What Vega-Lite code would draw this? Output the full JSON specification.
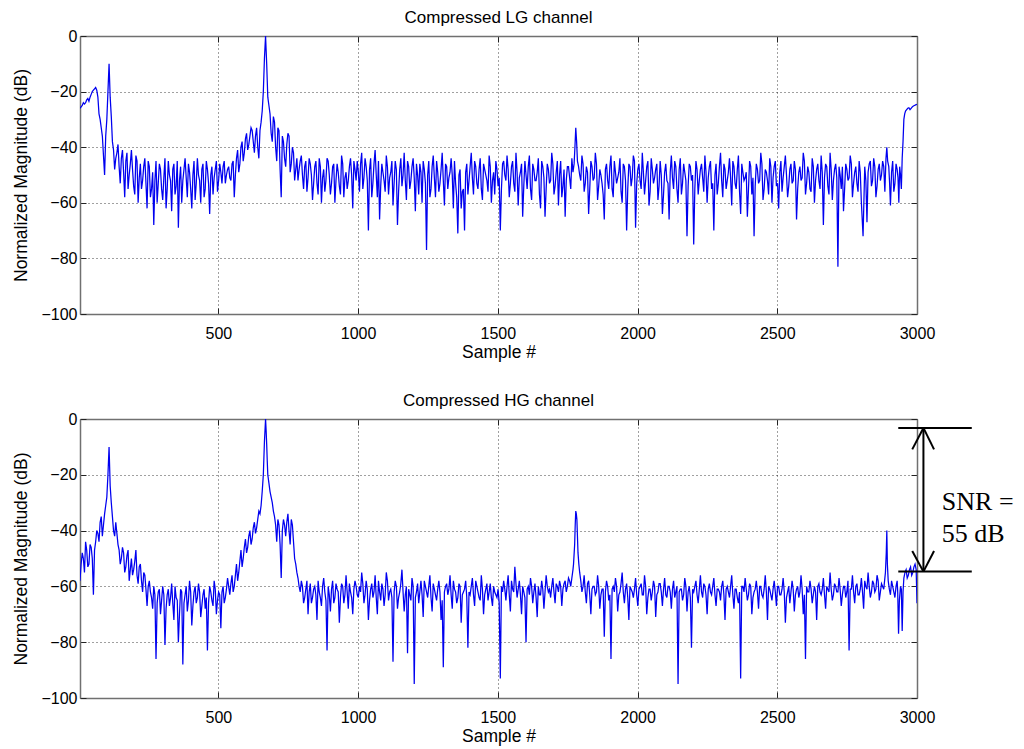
{
"$schema": "https://vega.github.io/schema/vega-lite/v6.json",
"padding": {"left": 12, "top": 9, "right": 2, "bottom": 2},
"background": "white",
"config": {
  "font": "Liberation Sans",
  "view": {"stroke": null},
  "axis": {"labelFont": "Liberation Sans", "labelFontSize": 16, "labelColor": "#000", "titleFont": "Liberation Sans", "titleFontSize": 17.5, "titleFontWeight": "normal", "titleColor": "#000", "domainColor": "#707070", "domainWidth": 1.5, "tickColor": "#222", "tickSize": -6, "gridColor": "#000", "gridDash": [1, 3], "gridOpacity": 0.75, "labelFlush": false},
  "axisX": {"labelPadding": 17},
  "axisY": {"labelPadding": 9},
  "title": {"font": "Liberation Sans", "fontSize": 17, "fontWeight": "normal", "color": "#000", "offset": 1, "anchor": "middle"}
},
"datasets": {
"lg": [
{"s":5,"m":-26},{"s":13,"m":-25},{"s":21,"m":-24.5},{"s":29,"m":-23},{"s":37,"m":-23.5},{"s":45,"m":-21},{"s":53,"m":-19.5},{"s":61,"m":-18.5},{"s":69,"m":-22},{"s":77,"m":-30},{"s":85,"m":-36},{"s":93,"m":-50},{"s":101,"m":-30},{"s":109,"m":-10},{"s":117,"m":-29},{"s":125,"m":-41},{"s":133,"m":-44},{"s":141,"m":-39},{"s":149,"m":-53},{"s":157,"m":-41},{"s":165,"m":-58},{"s":173,"m":-42},{"s":181,"m":-50},{"s":189,"m":-41},{"s":197,"m":-54},{"s":205,"m":-43},{"s":213,"m":-60},{"s":221,"m":-46},{"s":229,"m":-52},{"s":237,"m":-44},{"s":245,"m":-62},{"s":253,"m":-47},{"s":261,"m":-55},{"s":269,"m":-68},{"s":277,"m":-45},{"s":285,"m":-53},{"s":293,"m":-48},{"s":301,"m":-59},{"s":309,"m":-44},{"s":317,"m":-55},{"s":325,"m":-50},{"s":333,"m":-63},{"s":341,"m":-46},{"s":349,"m":-54},{"s":357,"m":-69},{"s":365,"m":-47},{"s":373,"m":-52},{"s":381,"m":-44},{"s":389,"m":-58},{"s":397,"m":-49},{"s":405,"m":-62},{"s":413,"m":-45},{"s":421,"m":-53},{"s":429,"m":-50},{"s":437,"m":-60},{"s":445,"m":-46},{"s":453,"m":-55},{"s":461,"m":-48},{"s":469,"m":-64},{"s":477,"m":-47},{"s":485,"m":-51},{"s":493,"m":-45},{"s":501,"m":-52},{"s":509,"m":-49},{"s":517,"m":-47},{"s":525,"m":-53},{"s":533,"m":-48},{"s":541,"m":-51},{"s":549,"m":-46},{"s":557,"m":-58},{"s":565,"m":-44},{"s":573,"m":-49},{"s":581,"m":-40},{"s":589,"m":-45},{"s":597,"m":-37},{"s":605,"m":-41},{"s":613,"m":-36},{"s":621,"m":-34},{"s":629,"m":-42},{"s":637,"m":-33},{"s":645,"m":-44},{"s":653,"m":-31},{"s":661,"m":-20},{"s":665,"m":-8},{"s":669,"m":0},{"s":673,"m":-10},{"s":677,"m":-22},{"s":685,"m":-28},{"s":693,"m":-38},{"s":701,"m":-31},{"s":709,"m":-45},{"s":717,"m":-34},{"s":725,"m":-58},{"s":733,"m":-38},{"s":741,"m":-47},{"s":749,"m":-35},{"s":757,"m":-49},{"s":765,"m":-40},{"s":773,"m":-52},{"s":781,"m":-44},{"s":789,"m":-48},{"s":797,"m":-43},{"s":805,"m":-55},{"s":813,"m":-45},{"s":821,"m":-51},{"s":829,"m":-46},{"s":837,"m":-59},{"s":845,"m":-47},{"s":853,"m":-53},{"s":861,"m":-44},{"s":869,"m":-60},{"s":877,"m":-48},{"s":885,"m":-52},{"s":893,"m":-45},{"s":901,"m":-57},{"s":909,"m":-47},{"s":917,"m":-60},{"s":925,"m":-46},{"s":933,"m":-54},{"s":941,"m":-43},{"s":949,"m":-58},{"s":957,"m":-49},{"s":965,"m":-52},{"s":973,"m":-44},{"s":981,"m":-62},{"s":989,"m":-48},
{"s":997,"m":-45},{"s":1005,"m":-56},{"s":1013,"m":-42},{"s":1021,"m":-51},{"s":1029,"m":-47},{"s":1037,"m":-70},{"s":1045,"m":-44},{"s":1053,"m":-53},{"s":1061,"m":-41},{"s":1069,"m":-58},{"s":1077,"m":-66},{"s":1085,"m":-46},{"s":1093,"m":-52},{"s":1101,"m":-43},{"s":1109,"m":-57},{"s":1117,"m":-49},{"s":1125,"m":-61},{"s":1133,"m":-45},{"s":1141,"m":-68},{"s":1149,"m":-48},{"s":1157,"m":-54},{"s":1165,"m":-42},{"s":1173,"m":-59},{"s":1181,"m":-47},{"s":1189,"m":-52},{"s":1197,"m":-44},{"s":1205,"m":-63},{"s":1213,"m":-50},{"s":1221,"m":-46},{"s":1229,"m":-60},{"s":1237,"m":-48},{"s":1245,"m":-77},{"s":1253,"m":-45},{"s":1261,"m":-55},{"s":1269,"m":-43},{"s":1277,"m":-58},{"s":1285,"m":-49},{"s":1293,"m":-53},{"s":1301,"m":-42},{"s":1309,"m":-61},{"s":1317,"m":-47},{"s":1325,"m":-51},{"s":1333,"m":-44},{"s":1341,"m":-62},{"s":1349,"m":-53},{"s":1357,"m":-71},{"s":1365,"m":-48},{"s":1373,"m":-56},{"s":1381,"m":-70},{"s":1389,"m":-46},{"s":1397,"m":-52},{"s":1405,"m":-42},{"s":1413,"m":-57},{"s":1421,"m":-47},{"s":1429,"m":-55},{"s":1437,"m":-44},{"s":1445,"m":-59},{"s":1453,"m":-48},{"s":1461,"m":-52},{"s":1469,"m":-43},{"s":1477,"m":-60},{"s":1485,"m":-49},{"s":1493,"m":-45},{"s":1501,"m":-54},{"s":1509,"m":-70},{"s":1517,"m":-46},{"s":1525,"m":-50},{"s":1533,"m":-43},{"s":1541,"m":-58},{"s":1549,"m":-47},{"s":1557,"m":-53},{"s":1565,"m":-42},{"s":1573,"m":-61},{"s":1581,"m":-49},{"s":1589,"m":-65},{"s":1597,"m":-45},{"s":1605,"m":-55},{"s":1613,"m":-43},{"s":1621,"m":-59},{"s":1629,"m":-48},{"s":1637,"m":-52},{"s":1645,"m":-44},{"s":1653,"m":-62},{"s":1661,"m":-47},{"s":1669,"m":-65},{"s":1677,"m":-46},{"s":1685,"m":-53},{"s":1693,"m":-42},{"s":1701,"m":-57},{"s":1709,"m":-49},{"s":1717,"m":-61},{"s":1725,"m":-45},{"s":1733,"m":-54},{"s":1741,"m":-65},{"s":1749,"m":-47},{"s":1757,"m":-51},{"s":1765,"m":-44},{"s":1773,"m":-46},{"s":1779,"m":-33},{"s":1785,"m":-45},{"s":1793,"m":-50},{"s":1801,"m":-43},{"s":1809,"m":-56},{"s":1817,"m":-47},{"s":1825,"m":-64},{"s":1833,"m":-45},{"s":1841,"m":-52},{"s":1849,"m":-42},{"s":1857,"m":-59},{"s":1865,"m":-48},{"s":1873,"m":-53},{"s":1881,"m":-66},{"s":1889,"m":-46},{"s":1897,"m":-55},{"s":1905,"m":-43},{"s":1913,"m":-58},{"s":1921,"m":-49},{"s":1929,"m":-51},{"s":1937,"m":-44},{"s":1945,"m":-60},{"s":1953,"m":-47},{"s":1961,"m":-70},{"s":1969,"m":-46},{"s":1977,"m":-54},{"s":1985,"m":-43},{"s":1993,"m":-69},
{"s":2001,"m":-48},{"s":2009,"m":-52},{"s":2017,"m":-42},{"s":2025,"m":-57},{"s":2033,"m":-47},{"s":2041,"m":-61},{"s":2049,"m":-44},{"s":2057,"m":-53},{"s":2065,"m":-48},{"s":2073,"m":-59},{"s":2081,"m":-45},{"s":2089,"m":-64},{"s":2097,"m":-49},{"s":2105,"m":-52},{"s":2113,"m":-66},{"s":2121,"m":-43},{"s":2129,"m":-55},{"s":2137,"m":-47},{"s":2145,"m":-60},{"s":2153,"m":-44},{"s":2161,"m":-53},{"s":2169,"m":-49},{"s":2177,"m":-72},{"s":2185,"m":-46},{"s":2193,"m":-52},{"s":2201,"m":-75},{"s":2209,"m":-45},{"s":2217,"m":-57},{"s":2225,"m":-48},{"s":2233,"m":-51},{"s":2241,"m":-43},{"s":2249,"m":-60},{"s":2257,"m":-47},{"s":2265,"m":-55},{"s":2273,"m":-70},{"s":2281,"m":-46},{"s":2289,"m":-53},{"s":2297,"m":-42},{"s":2305,"m":-58},{"s":2313,"m":-48},{"s":2321,"m":-52},{"s":2329,"m":-44},{"s":2337,"m":-61},{"s":2345,"m":-47},{"s":2353,"m":-55},{"s":2361,"m":-43},{"s":2369,"m":-64},{"s":2377,"m":-49},{"s":2385,"m":-51},{"s":2393,"m":-65},{"s":2401,"m":-45},{"s":2409,"m":-57},{"s":2417,"m":-72},{"s":2425,"m":-46},{"s":2433,"m":-53},{"s":2441,"m":-42},{"s":2449,"m":-59},{"s":2457,"m":-48},{"s":2465,"m":-52},{"s":2473,"m":-44},{"s":2481,"m":-60},{"s":2489,"m":-47},{"s":2497,"m":-54},{"s":2505,"m":-62},{"s":2513,"m":-45},{"s":2521,"m":-51},{"s":2529,"m":-43},{"s":2537,"m":-58},{"s":2545,"m":-48},{"s":2553,"m":-53},{"s":2561,"m":-45},{"s":2569,"m":-66},{"s":2577,"m":-49},{"s":2585,"m":-52},{"s":2593,"m":-42},{"s":2601,"m":-57},{"s":2609,"m":-47},{"s":2617,"m":-55},{"s":2625,"m":-44},{"s":2633,"m":-60},{"s":2641,"m":-48},{"s":2649,"m":-52},{"s":2657,"m":-43},{"s":2665,"m":-68},{"s":2673,"m":-46},{"s":2681,"m":-54},{"s":2689,"m":-42},{"s":2697,"m":-59},{"s":2705,"m":-48},{"s":2713,"m":-51},{"s":2717,"m":-83},{"s":2721,"m":-47},{"s":2729,"m":-55},{"s":2737,"m":-63},{"s":2745,"m":-46},{"s":2753,"m":-52},{"s":2761,"m":-43},{"s":2769,"m":-58},{"s":2777,"m":-49},{"s":2785,"m":-53},{"s":2793,"m":-45},{"s":2801,"m":-60},{"s":2807,"m":-72},{"s":2813,"m":-47},{"s":2821,"m":-67},{"s":2829,"m":-46},{"s":2837,"m":-54},{"s":2845,"m":-44},{"s":2853,"m":-58},{"s":2861,"m":-48},{"s":2869,"m":-52},{"s":2877,"m":-45},{"s":2885,"m":-56},{"s":2892,"m":-40},{"s":2899,"m":-47},{"s":2905,"m":-61},{"s":2913,"m":-45},{"s":2921,"m":-53},{"s":2929,"m":-48},{"s":2935,"m":-60},{"s":2941,"m":-50},{"s":2947,"m":-44},{"s":2953,"m":-30},{"s":2959,"m":-27},{"s":2967,"m":-26},{"s":2975,"m":-26.5},{"s":2983,"m":-25.5},{"s":2991,"m":-25},{"s":3000,"m":-24.6},
{"s":9,"m":-25.5},{"s":17,"m":-24},{"s":25,"m":-24},{"s":33,"m":-22.5},{"s":41,"m":-22},{"s":49,"m":-20},{"s":57,"m":-19},{"s":65,"m":-19.5},{"s":73,"m":-28},{"s":81,"m":-33},{"s":89,"m":-43},{"s":97,"m":-36},{"s":105,"m":-20},{"s":113,"m":-22},{"s":121,"m":-38},{"s":129,"m":-48},{"s":137,"m":-42},{"s":145,"m":-47},{"s":153,"m":-44},{"s":161,"m":-49},{"s":169,"m":-45},{"s":177,"m":-55},{"s":185,"m":-46},{"s":193,"m":-48},{"s":201,"m":-57},{"s":209,"m":-45},{"s":217,"m":-51},{"s":225,"m":-55},{"s":233,"m":-47},{"s":241,"m":-53},{"s":249,"m":-45},{"s":257,"m":-58},{"s":265,"m":-49},{"s":273,"m":-52},{"s":281,"m":-60},{"s":289,"m":-46},{"s":297,"m":-55},{"s":305,"m":-51},{"s":313,"m":-62},{"s":321,"m":-45},{"s":329,"m":-52},{"s":337,"m":-48},{"s":345,"m":-57},{"s":353,"m":-45},{"s":361,"m":-52},{"s":369,"m":-60},{"s":377,"m":-48},{"s":385,"m":-51},{"s":393,"m":-46},{"s":401,"m":-55},{"s":409,"m":-50},{"s":417,"m":-59},{"s":425,"m":-44},{"s":433,"m":-52},{"s":441,"m":-48},{"s":449,"m":-58},{"s":457,"m":-45},{"s":465,"m":-53},{"s":473,"m":-50},{"s":481,"m":-57},{"s":489,"m":-48},{"s":497,"m":-56},{"s":505,"m":-46},{"s":513,"m":-53},{"s":521,"m":-45},{"s":529,"m":-50},{"s":537,"m":-47},{"s":545,"m":-52},{"s":553,"m":-45},{"s":561,"m":-50},{"s":569,"m":-41},{"s":577,"m":-46},{"s":585,"m":-38},{"s":593,"m":-42},{"s":601,"m":-35},{"s":609,"m":-39},{"s":617,"m":-33},{"s":625,"m":-38},{"s":633,"m":-36},{"s":641,"m":-40},{"s":649,"m":-34},{"s":657,"m":-27},{"s":663,"m":-14},{"s":667,"m":-4},{"s":671,"m":-5},{"s":675,"m":-16},{"s":681,"m":-25},{"s":689,"m":-35},{"s":697,"m":-29},{"s":705,"m":-40},{"s":713,"m":-33},{"s":721,"m":-48},{"s":729,"m":-36},{"s":737,"m":-44},{"s":745,"m":-39},{"s":753,"m":-36},{"s":761,"m":-46},{"s":769,"m":-42},{"s":777,"m":-48},{"s":785,"m":-52},{"s":793,"m":-45},{"s":801,"m":-50},{"s":809,"m":-47},{"s":817,"m":-56},{"s":825,"m":-44},{"s":833,"m":-50},{"s":841,"m":-53},{"s":849,"m":-45},{"s":857,"m":-57},{"s":865,"m":-47},{"s":873,"m":-51},{"s":881,"m":-56},{"s":889,"m":-44},{"s":897,"m":-50},{"s":905,"m":-53},{"s":913,"m":-46},{"s":921,"m":-52},{"s":929,"m":-49},{"s":937,"m":-57},{"s":945,"m":-46},{"s":953,"m":-51},{"s":961,"m":-55},{"s":969,"m":-47},{"s":977,"m":-50},{"s":985,"m":-45},{"s":993,"m":-52},
{"s":1001,"m":-49},{"s":1009,"m":-46},{"s":1017,"m":-55},{"s":1025,"m":-44},{"s":1033,"m":-52},{"s":1041,"m":-48},{"s":1049,"m":-58},{"s":1057,"m":-46},{"s":1065,"m":-50},{"s":1073,"m":-45},{"s":1081,"m":-54},{"s":1089,"m":-49},{"s":1097,"m":-56},{"s":1105,"m":-47},{"s":1113,"m":-51},{"s":1121,"m":-45},{"s":1129,"m":-53},{"s":1137,"m":-48},{"s":1145,"m":-56},{"s":1153,"m":-44},{"s":1161,"m":-50},{"s":1169,"m":-52},{"s":1177,"m":-45},{"s":1185,"m":-55},{"s":1193,"m":-47},{"s":1201,"m":-51},{"s":1209,"m":-46},{"s":1217,"m":-57},{"s":1225,"m":-49},{"s":1233,"m":-45},{"s":1241,"m":-53},{"s":1249,"m":-50},{"s":1257,"m":-58},{"s":1265,"m":-47},{"s":1273,"m":-51},{"s":1281,"m":-45},{"s":1289,"m":-56},{"s":1297,"m":-48},{"s":1305,"m":-52},{"s":1313,"m":-46},{"s":1321,"m":-55},{"s":1329,"m":-49},{"s":1337,"m":-50},{"s":1345,"m":-45},{"s":1353,"m":-58},{"s":1361,"m":-50},{"s":1369,"m":-62},{"s":1377,"m":-55},{"s":1385,"m":-49},{"s":1393,"m":-57},{"s":1401,"m":-47},{"s":1409,"m":-51},{"s":1417,"m":-45},{"s":1425,"m":-53},{"s":1433,"m":-48},{"s":1441,"m":-55},{"s":1449,"m":-46},{"s":1457,"m":-50},{"s":1465,"m":-56},{"s":1473,"m":-47},{"s":1481,"m":-52},{"s":1489,"m":-57},{"s":1497,"m":-48},{"s":1505,"m":-51},{"s":1513,"m":-55},{"s":1521,"m":-45},{"s":1529,"m":-52},{"s":1537,"m":-48},{"s":1545,"m":-53},{"s":1553,"m":-45},{"s":1561,"m":-56},{"s":1569,"m":-49},{"s":1577,"m":-51},{"s":1585,"m":-46},{"s":1593,"m":-54},{"s":1601,"m":-50},{"s":1609,"m":-47},{"s":1617,"m":-55},{"s":1625,"m":-46},{"s":1633,"m":-52},{"s":1641,"m":-49},{"s":1649,"m":-57},{"s":1657,"m":-45},{"s":1665,"m":-51},{"s":1673,"m":-55},{"s":1681,"m":-48},{"s":1689,"m":-52},{"s":1697,"m":-46},{"s":1705,"m":-54},{"s":1713,"m":-45},{"s":1721,"m":-50},{"s":1729,"m":-58},{"s":1737,"m":-48},{"s":1745,"m":-52},{"s":1753,"m":-47},{"s":1761,"m":-55},{"s":1769,"m":-49},{"s":1776,"m":-40},{"s":1782,"m":-38},{"s":1789,"m":-47},{"s":1797,"m":-52},{"s":1805,"m":-46},{"s":1813,"m":-53},{"s":1821,"m":-49},{"s":1829,"m":-55},{"s":1837,"m":-47},{"s":1845,"m":-51},{"s":1853,"m":-46},{"s":1861,"m":-54},{"s":1869,"m":-50},{"s":1877,"m":-57},{"s":1885,"m":-48},{"s":1893,"m":-52},{"s":1901,"m":-47},{"s":1909,"m":-55},{"s":1917,"m":-45},{"s":1925,"m":-53},{"s":1933,"m":-49},{"s":1941,"m":-56},{"s":1949,"m":-46},{"s":1957,"m":-52},{"s":1965,"m":-55},{"s":1973,"m":-47},{"s":1981,"m":-51},{"s":1989,"m":-45},{"s":1997,"m":-53},
{"s":2005,"m":-46},{"s":2013,"m":-55},{"s":2021,"m":-49},{"s":2029,"m":-52},{"s":2037,"m":-45},{"s":2045,"m":-56},{"s":2053,"m":-48},{"s":2061,"m":-51},{"s":2069,"m":-46},{"s":2077,"m":-54},{"s":2085,"m":-50},{"s":2093,"m":-57},{"s":2101,"m":-46},{"s":2109,"m":-53},{"s":2117,"m":-49},{"s":2125,"m":-51},{"s":2133,"m":-45},{"s":2141,"m":-55},{"s":2149,"m":-48},{"s":2157,"m":-57},{"s":2165,"m":-46},{"s":2173,"m":-52},{"s":2181,"m":-54},{"s":2189,"m":-47},{"s":2197,"m":-50},{"s":2205,"m":-55},{"s":2213,"m":-48},{"s":2221,"m":-52},{"s":2229,"m":-46},{"s":2237,"m":-56},{"s":2245,"m":-49},{"s":2253,"m":-51},{"s":2261,"m":-45},{"s":2269,"m":-53},{"s":2277,"m":-50},{"s":2285,"m":-57},{"s":2293,"m":-47},{"s":2301,"m":-52},{"s":2309,"m":-46},{"s":2317,"m":-55},{"s":2325,"m":-49},{"s":2333,"m":-51},{"s":2341,"m":-45},{"s":2349,"m":-53},{"s":2357,"m":-48},{"s":2365,"m":-56},{"s":2373,"m":-46},{"s":2381,"m":-52},{"s":2389,"m":-49},{"s":2397,"m":-55},{"s":2405,"m":-47},{"s":2413,"m":-51},{"s":2421,"m":-54},{"s":2429,"m":-48},{"s":2437,"m":-52},{"s":2445,"m":-46},{"s":2453,"m":-55},{"s":2461,"m":-49},{"s":2469,"m":-57},{"s":2477,"m":-47},{"s":2485,"m":-51},{"s":2493,"m":-45},{"s":2501,"m":-53},{"s":2509,"m":-49},{"s":2517,"m":-56},{"s":2525,"m":-47},{"s":2533,"m":-50},{"s":2541,"m":-54},{"s":2549,"m":-46},{"s":2557,"m":-52},{"s":2565,"m":-48},{"s":2573,"m":-55},{"s":2581,"m":-47},{"s":2589,"m":-51},{"s":2597,"m":-45},{"s":2605,"m":-53},{"s":2613,"m":-49},{"s":2621,"m":-56},{"s":2629,"m":-47},{"s":2637,"m":-52},{"s":2645,"m":-46},{"s":2653,"m":-55},{"s":2661,"m":-49},{"s":2669,"m":-51},{"s":2677,"m":-47},{"s":2685,"m":-57},{"s":2693,"m":-48},{"s":2701,"m":-52},{"s":2709,"m":-46},{"s":2725,"m":-50},{"s":2733,"m":-47},{"s":2741,"m":-55},{"s":2749,"m":-48},{"s":2757,"m":-51},{"s":2765,"m":-46},{"s":2773,"m":-53},{"s":2781,"m":-47},{"s":2789,"m":-56},{"s":2797,"m":-49},{"s":2817,"m":-52},{"s":2825,"m":-49},{"s":2833,"m":-45},{"s":2841,"m":-52},{"s":2849,"m":-47},{"s":2857,"m":-54},{"s":2865,"m":-46},{"s":2873,"m":-50},{"s":2881,"m":-47},{"s":2889,"m":-44},{"s":2895,"m":-45},{"s":2902,"m":-53},{"s":2909,"m":-49},{"s":2917,"m":-56},{"s":2925,"m":-46},{"s":2932,"m":-51},{"s":2938,"m":-47},{"s":2944,"m":-55},{"s":2950,"m":-38},{"s":2956,"m":-28},{"s":2963,"m":-26.5},{"s":2971,"m":-25.8},{"s":2979,"m":-26},{"s":2987,"m":-25.2},{"s":2995,"m":-24.8}
],
"hg": [
{"s":5,"m":-58},{"s":13,"m":-48},{"s":21,"m":-55},{"s":29,"m":-47},{"s":37,"m":-52},{"s":45,"m":-46},{"s":53,"m":-63},{"s":61,"m":-44},{"s":69,"m":-41},{"s":77,"m":-37},{"s":85,"m":-42},{"s":93,"m":-34},{"s":101,"m":-28},{"s":109,"m":-10},{"s":117,"m":-30},{"s":125,"m":-40},{"s":133,"m":-37},{"s":141,"m":-45},{"s":149,"m":-52},{"s":157,"m":-46},{"s":165,"m":-55},{"s":173,"m":-49},{"s":181,"m":-58},{"s":189,"m":-50},{"s":197,"m":-54},{"s":205,"m":-47},{"s":213,"m":-59},{"s":221,"m":-52},{"s":229,"m":-62},{"s":237,"m":-56},{"s":245,"m":-67},{"s":253,"m":-58},{"s":261,"m":-64},{"s":269,"m":-60},{"s":277,"m":-86},{"s":285,"m":-62},{"s":293,"m":-70},{"s":301,"m":-60},{"s":309,"m":-81},{"s":317,"m":-63},{"s":325,"m":-67},{"s":333,"m":-59},{"s":341,"m":-72},{"s":349,"m":-64},{"s":357,"m":-80},{"s":365,"m":-61},{"s":373,"m":-88},{"s":381,"m":-63},{"s":389,"m":-69},{"s":397,"m":-58},{"s":405,"m":-74},{"s":413,"m":-62},{"s":421,"m":-66},{"s":429,"m":-59},{"s":437,"m":-71},{"s":445,"m":-63},{"s":453,"m":-68},{"s":461,"m":-83},{"s":469,"m":-60},{"s":477,"m":-65},{"s":485,"m":-58},{"s":493,"m":-70},{"s":501,"m":-62},{"s":509,"m":-75},{"s":517,"m":-60},{"s":525,"m":-64},{"s":533,"m":-57},{"s":541,"m":-63},{"s":549,"m":-56},{"s":557,"m":-60},{"s":565,"m":-52},{"s":573,"m":-55},{"s":581,"m":-47},{"s":589,"m":-50},{"s":597,"m":-43},{"s":605,"m":-46},{"s":613,"m":-40},{"s":621,"m":-43},{"s":629,"m":-37},{"s":637,"m":-39},{"s":645,"m":-33},{"s":653,"m":-31},{"s":661,"m":-20},{"s":665,"m":-8},{"s":669,"m":0},{"s":673,"m":-9},{"s":677,"m":-20},{"s":685,"m":-26},{"s":693,"m":-30},{"s":701,"m":-35},{"s":709,"m":-44},{"s":717,"m":-38},{"s":725,"m":-57},{"s":733,"m":-36},{"s":741,"m":-42},{"s":749,"m":-34},{"s":757,"m":-45},{"s":765,"m":-38},{"s":773,"m":-50},{"s":781,"m":-55},{"s":789,"m":-60},{"s":797,"m":-58},{"s":805,"m":-66},{"s":813,"m":-61},{"s":821,"m":-70},{"s":829,"m":-59},{"s":837,"m":-64},{"s":845,"m":-60},{"s":853,"m":-72},{"s":861,"m":-62},{"s":869,"m":-67},{"s":877,"m":-57},{"s":885,"m":-65},{"s":889,"m":-83},{"s":893,"m":-60},{"s":901,"m":-69},{"s":909,"m":-58},{"s":917,"m":-64},{"s":925,"m":-61},{"s":933,"m":-73},{"s":941,"m":-59},{"s":949,"m":-66},{"s":957,"m":-56},{"s":965,"m":-68},{"s":973,"m":-62},{"s":981,"m":-70},{"s":989,"m":-58},{"s":997,"m":-63},
{"s":1005,"m":-60},{"s":1013,"m":-55},{"s":1021,"m":-66},{"s":1029,"m":-58},{"s":1037,"m":-72},{"s":1045,"m":-61},{"s":1053,"m":-64},{"s":1061,"m":-56},{"s":1069,"m":-70},{"s":1077,"m":-62},{"s":1085,"m":-59},{"s":1093,"m":-67},{"s":1101,"m":-55},{"s":1109,"m":-65},{"s":1117,"m":-61},{"s":1125,"m":-87},{"s":1133,"m":-58},{"s":1141,"m":-68},{"s":1149,"m":-62},{"s":1157,"m":-54},{"s":1165,"m":-69},{"s":1173,"m":-60},{"s":1177,"m":-84},{"s":1185,"m":-63},{"s":1193,"m":-57},{"s":1201,"m":-95},{"s":1209,"m":-62},{"s":1217,"m":-66},{"s":1225,"m":-58},{"s":1233,"m":-71},{"s":1241,"m":-60},{"s":1249,"m":-64},{"s":1257,"m":-56},{"s":1265,"m":-69},{"s":1273,"m":-61},{"s":1281,"m":-65},{"s":1289,"m":-58},{"s":1297,"m":-72},{"s":1305,"m":-89},{"s":1313,"m":-60},{"s":1321,"m":-63},{"s":1329,"m":-56},{"s":1337,"m":-68},{"s":1345,"m":-61},{"s":1353,"m":-66},{"s":1361,"m":-59},{"s":1369,"m":-73},{"s":1377,"m":-62},{"s":1385,"m":-58},{"s":1393,"m":-82},{"s":1401,"m":-63},{"s":1409,"m":-57},{"s":1417,"m":-67},{"s":1425,"m":-60},{"s":1433,"m":-64},{"s":1441,"m":-56},{"s":1449,"m":-70},{"s":1457,"m":-61},{"s":1465,"m":-65},{"s":1473,"m":-59},{"s":1481,"m":-67},{"s":1489,"m":-62},{"s":1497,"m":-64},{"s":1505,"m":-66},{"s":1509,"m":-93},{"s":1513,"m":-60},{"s":1521,"m":-58},{"s":1529,"m":-65},{"s":1537,"m":-56},{"s":1545,"m":-69},{"s":1553,"m":-61},{"s":1561,"m":-53},{"s":1569,"m":-64},{"s":1577,"m":-58},{"s":1585,"m":-70},{"s":1593,"m":-62},{"s":1601,"m":-80},{"s":1609,"m":-60},{"s":1617,"m":-57},{"s":1625,"m":-66},{"s":1633,"m":-59},{"s":1641,"m":-71},{"s":1649,"m":-63},{"s":1657,"m":-58},{"s":1665,"m":-68},{"s":1673,"m":-56},{"s":1681,"m":-62},{"s":1689,"m":-64},{"s":1697,"m":-57},{"s":1705,"m":-66},{"s":1713,"m":-60},{"s":1721,"m":-58},{"s":1729,"m":-67},{"s":1737,"m":-59},{"s":1745,"m":-62},{"s":1753,"m":-57},{"s":1761,"m":-60},{"s":1769,"m":-54},{"s":1775,"m":-45},{"s":1779,"m":-33},{"s":1783,"m":-36},{"s":1787,"m":-48},{"s":1793,"m":-55},{"s":1801,"m":-62},{"s":1809,"m":-56},{"s":1817,"m":-66},{"s":1825,"m":-58},{"s":1833,"m":-70},{"s":1841,"m":-60},{"s":1849,"m":-63},{"s":1857,"m":-56},{"s":1865,"m":-68},{"s":1873,"m":-61},{"s":1881,"m":-78},{"s":1889,"m":-58},{"s":1897,"m":-65},{"s":1905,"m":-86},{"s":1913,"m":-60},{"s":1921,"m":-57},{"s":1929,"m":-69},{"s":1937,"m":-62},{"s":1945,"m":-55},{"s":1953,"m":-66},{"s":1961,"m":-59},{"s":1969,"m":-72},{"s":1977,"m":-61},{"s":1985,"m":-64},{"s":1993,"m":-57},
{"s":2001,"m":-67},{"s":2009,"m":-60},{"s":2017,"m":-63},{"s":2025,"m":-56},{"s":2033,"m":-70},{"s":2041,"m":-61},{"s":2049,"m":-65},{"s":2057,"m":-58},{"s":2065,"m":-71},{"s":2073,"m":-62},{"s":2081,"m":-59},{"s":2089,"m":-67},{"s":2097,"m":-57},{"s":2105,"m":-64},{"s":2113,"m":-60},{"s":2121,"m":-68},{"s":2129,"m":-58},{"s":2137,"m":-62},{"s":2145,"m":-95},{"s":2153,"m":-61},{"s":2161,"m":-65},{"s":2169,"m":-57},{"s":2177,"m":-69},{"s":2185,"m":-60},{"s":2193,"m":-82},{"s":2201,"m":-62},{"s":2209,"m":-58},{"s":2217,"m":-66},{"s":2225,"m":-56},{"s":2233,"m":-64},{"s":2241,"m":-60},{"s":2249,"m":-70},{"s":2257,"m":-59},{"s":2265,"m":-63},{"s":2273,"m":-57},{"s":2281,"m":-67},{"s":2289,"m":-61},{"s":2297,"m":-65},{"s":2305,"m":-58},{"s":2313,"m":-72},{"s":2321,"m":-60},{"s":2329,"m":-64},{"s":2337,"m":-56},{"s":2345,"m":-68},{"s":2353,"m":-61},{"s":2361,"m":-66},{"s":2369,"m":-93},{"s":2377,"m":-60},{"s":2385,"m":-57},{"s":2393,"m":-65},{"s":2401,"m":-59},{"s":2409,"m":-70},{"s":2417,"m":-62},{"s":2425,"m":-58},{"s":2433,"m":-68},{"s":2441,"m":-60},{"s":2449,"m":-64},{"s":2457,"m":-56},{"s":2465,"m":-72},{"s":2473,"m":-61},{"s":2481,"m":-65},{"s":2489,"m":-58},{"s":2497,"m":-67},{"s":2505,"m":-60},{"s":2513,"m":-63},{"s":2521,"m":-57},{"s":2529,"m":-73},{"s":2537,"m":-62},{"s":2545,"m":-66},{"s":2553,"m":-58},{"s":2561,"m":-69},{"s":2569,"m":-61},{"s":2577,"m":-64},{"s":2585,"m":-56},{"s":2593,"m":-70},{"s":2601,"m":-86},{"s":2609,"m":-62},{"s":2617,"m":-58},{"s":2625,"m":-66},{"s":2633,"m":-60},{"s":2641,"m":-72},{"s":2649,"m":-59},{"s":2657,"m":-63},{"s":2665,"m":-57},{"s":2673,"m":-68},{"s":2681,"m":-61},{"s":2689,"m":-55},{"s":2697,"m":-65},{"s":2705,"m":-59},{"s":2713,"m":-62},{"s":2721,"m":-57},{"s":2729,"m":-67},{"s":2737,"m":-60},{"s":2745,"m":-64},{"s":2753,"m":-58},{"s":2757,"m":-83},{"s":2761,"m":-61},{"s":2769,"m":-56},{"s":2777,"m":-66},{"s":2785,"m":-59},{"s":2793,"m":-63},{"s":2801,"m":-57},{"s":2809,"m":-68},{"s":2817,"m":-60},{"s":2825,"m":-55},{"s":2833,"m":-64},{"s":2841,"m":-58},{"s":2849,"m":-62},{"s":2857,"m":-56},{"s":2865,"m":-65},{"s":2873,"m":-59},{"s":2881,"m":-61},{"s":2887,"m":-55},{"s":2892,"m":-40},{"s":2897,"m":-58},{"s":2905,"m":-63},{"s":2913,"m":-60},{"s":2921,"m":-64},{"s":2929,"m":-58},{"s":2934,"m":-77},{"s":2941,"m":-60},{"s":2947,"m":-76},{"s":2953,"m":-57},{"s":2961,"m":-54},{"s":2969,"m":-56},{"s":2977,"m":-53},{"s":2985,"m":-55},{"s":2993,"m":-52},{"s":3000,"m":-66},
{"s":9,"m":-52},{"s":17,"m":-50},{"s":25,"m":-44},{"s":33,"m":-53},{"s":41,"m":-45},{"s":49,"m":-50},{"s":57,"m":-47},{"s":65,"m":-40},{"s":73,"m":-44},{"s":81,"m":-35},{"s":89,"m":-38},{"s":97,"m":-31},{"s":105,"m":-20},{"s":113,"m":-24},{"s":121,"m":-35},{"s":129,"m":-42},{"s":137,"m":-41},{"s":145,"m":-47},{"s":153,"m":-50},{"s":161,"m":-48},{"s":169,"m":-53},{"s":177,"m":-47},{"s":185,"m":-54},{"s":193,"m":-56},{"s":201,"m":-51},{"s":209,"m":-56},{"s":217,"m":-53},{"s":225,"m":-58},{"s":233,"m":-55},{"s":241,"m":-61},{"s":249,"m":-60},{"s":257,"m":-62},{"s":265,"m":-68},{"s":273,"m":-63},{"s":281,"m":-66},{"s":289,"m":-61},{"s":297,"m":-65},{"s":305,"m":-63},{"s":313,"m":-68},{"s":321,"m":-61},{"s":329,"m":-64},{"s":337,"m":-66},{"s":345,"m":-60},{"s":353,"m":-65},{"s":361,"m":-70},{"s":369,"m":-62},{"s":377,"m":-66},{"s":385,"m":-60},{"s":393,"m":-65},{"s":401,"m":-62},{"s":409,"m":-67},{"s":417,"m":-60},{"s":425,"m":-64},{"s":433,"m":-62},{"s":441,"m":-67},{"s":449,"m":-61},{"s":457,"m":-64},{"s":465,"m":-66},{"s":473,"m":-62},{"s":481,"m":-67},{"s":489,"m":-61},{"s":497,"m":-65},{"s":505,"m":-63},{"s":513,"m":-62},{"s":521,"m":-66},{"s":529,"m":-61},{"s":537,"m":-60},{"s":545,"m":-59},{"s":553,"m":-62},{"s":561,"m":-56},{"s":569,"m":-58},{"s":577,"m":-51},{"s":585,"m":-53},{"s":593,"m":-46},{"s":601,"m":-48},{"s":609,"m":-42},{"s":617,"m":-45},{"s":625,"m":-39},{"s":633,"m":-41},{"s":641,"m":-36},{"s":649,"m":-34},{"s":657,"m":-26},{"s":663,"m":-14},{"s":667,"m":-4},{"s":671,"m":-4},{"s":675,"m":-15},{"s":681,"m":-23},{"s":689,"m":-28},{"s":697,"m":-33},{"s":705,"m":-38},{"s":713,"m":-36},{"s":721,"m":-45},{"s":729,"m":-40},{"s":737,"m":-38},{"s":745,"m":-37},{"s":753,"m":-40},{"s":761,"m":-36},{"s":769,"m":-44},{"s":777,"m":-52},{"s":785,"m":-57},{"s":793,"m":-62},{"s":801,"m":-60},{"s":809,"m":-64},{"s":817,"m":-58},{"s":825,"m":-62},{"s":833,"m":-66},{"s":841,"m":-61},{"s":849,"m":-63},{"s":857,"m":-58},{"s":865,"m":-64},{"s":873,"m":-60},{"s":881,"m":-62},{"s":897,"m":-63},{"s":905,"m":-61},{"s":913,"m":-66},{"s":921,"m":-59},{"s":929,"m":-62},{"s":937,"m":-64},{"s":945,"m":-60},{"s":953,"m":-63},{"s":961,"m":-62},{"s":969,"m":-59},{"s":977,"m":-64},{"s":985,"m":-61},{"s":993,"m":-60},
{"s":1001,"m":-64},{"s":1009,"m":-62},{"s":1017,"m":-59},{"s":1025,"m":-63},{"s":1033,"m":-61},{"s":1041,"m":-65},{"s":1049,"m":-59},{"s":1057,"m":-62},{"s":1065,"m":-64},{"s":1073,"m":-58},{"s":1081,"m":-65},{"s":1089,"m":-61},{"s":1097,"m":-63},{"s":1105,"m":-58},{"s":1113,"m":-62},{"s":1121,"m":-64},{"s":1129,"m":-62},{"s":1137,"m":-60},{"s":1145,"m":-64},{"s":1153,"m":-59},{"s":1161,"m":-62},{"s":1169,"m":-63},{"s":1181,"m":-61},{"s":1189,"m":-65},{"s":1197,"m":-60},{"s":1205,"m":-64},{"s":1213,"m":-59},{"s":1221,"m":-62},{"s":1229,"m":-63},{"s":1237,"m":-58},{"s":1245,"m":-62},{"s":1253,"m":-60},{"s":1261,"m":-64},{"s":1269,"m":-59},{"s":1277,"m":-63},{"s":1285,"m":-61},{"s":1293,"m":-62},{"s":1301,"m":-65},{"s":1309,"m":-62},{"s":1317,"m":-59},{"s":1325,"m":-61},{"s":1333,"m":-63},{"s":1341,"m":-58},{"s":1349,"m":-62},{"s":1357,"m":-64},{"s":1365,"m":-60},{"s":1373,"m":-63},{"s":1381,"m":-61},{"s":1389,"m":-64},{"s":1397,"m":-62},{"s":1405,"m":-60},{"s":1413,"m":-63},{"s":1421,"m":-58},{"s":1429,"m":-62},{"s":1437,"m":-65},{"s":1445,"m":-61},{"s":1453,"m":-63},{"s":1461,"m":-59},{"s":1469,"m":-62},{"s":1477,"m":-64},{"s":1485,"m":-60},{"s":1493,"m":-63},{"s":1501,"m":-61},{"s":1517,"m":-62},{"s":1525,"m":-61},{"s":1533,"m":-60},{"s":1541,"m":-63},{"s":1549,"m":-58},{"s":1557,"m":-62},{"s":1565,"m":-59},{"s":1573,"m":-61},{"s":1581,"m":-63},{"s":1589,"m":-60},{"s":1597,"m":-64},{"s":1605,"m":-61},{"s":1613,"m":-63},{"s":1621,"m":-60},{"s":1629,"m":-62},{"s":1637,"m":-64},{"s":1645,"m":-60},{"s":1653,"m":-63},{"s":1661,"m":-61},{"s":1669,"m":-62},{"s":1677,"m":-60},{"s":1685,"m":-61},{"s":1693,"m":-60},{"s":1701,"m":-62},{"s":1709,"m":-59},{"s":1717,"m":-62},{"s":1725,"m":-60},{"s":1733,"m":-61},{"s":1741,"m":-58},{"s":1749,"m":-60},{"s":1757,"m":-58},{"s":1765,"m":-57},{"s":1771,"m":-52},{"s":1777,"m":-38},{"s":1781,"m":-34},{"s":1785,"m":-42},{"s":1790,"m":-52},{"s":1797,"m":-58},{"s":1805,"m":-60},{"s":1813,"m":-62},{"s":1821,"m":-59},{"s":1829,"m":-63},{"s":1837,"m":-61},{"s":1845,"m":-60},{"s":1853,"m":-62},{"s":1861,"m":-60},{"s":1869,"m":-63},{"s":1877,"m":-61},{"s":1885,"m":-62},{"s":1893,"m":-60},{"s":1901,"m":-63},{"s":1909,"m":-61},{"s":1917,"m":-62},{"s":1925,"m":-60},{"s":1933,"m":-63},{"s":1941,"m":-59},{"s":1949,"m":-62},{"s":1957,"m":-61},{"s":1965,"m":-64},{"s":1973,"m":-60},{"s":1981,"m":-62},{"s":1989,"m":-61},{"s":1997,"m":-63},
{"s":2005,"m":-61},{"s":2013,"m":-59},{"s":2021,"m":-63},{"s":2029,"m":-60},{"s":2037,"m":-64},{"s":2045,"m":-61},{"s":2053,"m":-62},{"s":2061,"m":-60},{"s":2069,"m":-63},{"s":2077,"m":-59},{"s":2085,"m":-62},{"s":2093,"m":-61},{"s":2101,"m":-63},{"s":2109,"m":-60},{"s":2117,"m":-62},{"s":2125,"m":-61},{"s":2133,"m":-64},{"s":2141,"m":-60},{"s":2149,"m":-62},{"s":2157,"m":-61},{"s":2165,"m":-63},{"s":2173,"m":-60},{"s":2181,"m":-62},{"s":2189,"m":-64},{"s":2197,"m":-61},{"s":2205,"m":-60},{"s":2213,"m":-63},{"s":2221,"m":-61},{"s":2229,"m":-62},{"s":2237,"m":-59},{"s":2245,"m":-63},{"s":2253,"m":-61},{"s":2261,"m":-62},{"s":2269,"m":-60},{"s":2277,"m":-63},{"s":2285,"m":-61},{"s":2293,"m":-62},{"s":2301,"m":-60},{"s":2309,"m":-63},{"s":2317,"m":-61},{"s":2325,"m":-62},{"s":2333,"m":-60},{"s":2341,"m":-63},{"s":2349,"m":-61},{"s":2357,"m":-64},{"s":2365,"m":-62},{"s":2373,"m":-60},{"s":2381,"m":-62},{"s":2389,"m":-61},{"s":2397,"m":-63},{"s":2405,"m":-60},{"s":2413,"m":-64},{"s":2421,"m":-61},{"s":2429,"m":-62},{"s":2437,"m":-60},{"s":2445,"m":-63},{"s":2453,"m":-61},{"s":2461,"m":-62},{"s":2469,"m":-60},{"s":2477,"m":-63},{"s":2485,"m":-61},{"s":2493,"m":-62},{"s":2501,"m":-60},{"s":2509,"m":-63},{"s":2517,"m":-61},{"s":2525,"m":-62},{"s":2533,"m":-64},{"s":2541,"m":-60},{"s":2549,"m":-62},{"s":2557,"m":-61},{"s":2565,"m":-63},{"s":2573,"m":-60},{"s":2581,"m":-62},{"s":2589,"m":-61},{"s":2597,"m":-63},{"s":2605,"m":-60},{"s":2613,"m":-62},{"s":2621,"m":-61},{"s":2629,"m":-63},{"s":2637,"m":-62},{"s":2645,"m":-60},{"s":2653,"m":-62},{"s":2661,"m":-61},{"s":2669,"m":-63},{"s":2677,"m":-60},{"s":2685,"m":-62},{"s":2693,"m":-61},{"s":2701,"m":-63},{"s":2709,"m":-60},{"s":2717,"m":-62},{"s":2725,"m":-61},{"s":2733,"m":-63},{"s":2741,"m":-60},{"s":2749,"m":-62},{"s":2765,"m":-61},{"s":2773,"m":-62},{"s":2781,"m":-60},{"s":2789,"m":-63},{"s":2797,"m":-61},{"s":2805,"m":-62},{"s":2813,"m":-58},{"s":2821,"m":-61},{"s":2829,"m":-60},{"s":2837,"m":-62},{"s":2845,"m":-59},{"s":2853,"m":-61},{"s":2861,"m":-58},{"s":2869,"m":-62},{"s":2877,"m":-60},{"s":2884,"m":-58},{"s":2890,"m":-48},{"s":2894,"m":-52},{"s":2901,"m":-61},{"s":2909,"m":-58},{"s":2917,"m":-62},{"s":2925,"m":-60},{"s":2931,"m":-62},{"s":2937,"m":-65},{"s":2944,"m":-61},{"s":2950,"m":-62},{"s":2957,"m":-55},{"s":2965,"m":-57},{"s":2973,"m":-54},{"s":2981,"m":-56},{"s":2989,"m":-53},{"s":2997,"m":-54}
],
"snrLines": [
{"x":2933,"y":-3.2,"x2":3196,"y2":-3.2},
{"x":2933,"y":-54.7,"x2":3196,"y2":-54.7},
{"x":3023,"y":-3.2,"x2":3023,"y2":-54.7},
{"x":3023,"y":-3.2,"x2":2983,"y2":-10.9},
{"x":3023,"y":-3.2,"x2":3061,"y2":-10.9},
{"x":3023,"y":-54.7,"x2":2983,"y2":-47.3},
{"x":3023,"y":-54.7,"x2":3061,"y2":-47.3}
],
"snrText": [
{"t":"SNR =","x":3089,"y":-32.6},
{"t":"55 dB","x":3089,"y":-44}
]
},
"spacing": 31,
"vconcat": [
{
  "width": 837, "height": 278,
  "title": "Compressed LG channel",
  "layer": [
    {
      "data": {"name": "lg"},
      "mark": {"type": "line", "color": "#0000f0", "strokeWidth": 1.25, "clip": true},
      "encoding": {
        "x": {"field": "s", "type": "quantitative", "scale": {"domain": [5, 3000], "nice": false, "zero": false},
              "axis": {"orient": "bottom", "title": "Sample #", "titlePadding": 2, "format": "d", "values": [500, 1000, 1500, 2000, 2500, 3000], "grid": true}},
        "y": {"field": "m", "type": "quantitative", "scale": {"domain": [-100, 0], "nice": false, "zero": false},
              "axis": {"orient": "left", "title": "Normalized Magnitude (dB)", "titlePadding": 10, "format": "d", "values": [-100, -80, -60, -40, -20, 0], "grid": true}}
      }
    },
    {
      "data": {"name": "lg"},
      "mark": {"type": "line", "opacity": 0},
      "encoding": {
        "x": {"field": "s", "type": "quantitative", "scale": {"domain": [5, 3000], "nice": false, "zero": false},
              "axis": {"orient": "top", "title": null, "labels": false, "grid": false, "values": [500, 1000, 1500, 2000, 2500, 3000]}},
        "y": {"field": "m", "type": "quantitative", "scale": {"domain": [-100, 0], "nice": false, "zero": false},
              "axis": {"orient": "right", "title": null, "labels": false, "grid": false, "values": [-100, -80, -60, -40, -20, 0]}}
      }
    }
  ],
  "resolve": {"axis": {"x": "independent", "y": "independent"}}
},
{
  "width": 837, "height": 279,
  "title": "Compressed HG channel",
  "layer": [
    {
      "data": {"name": "hg"},
      "mark": {"type": "line", "color": "#0000f0", "strokeWidth": 1.25, "clip": true},
      "encoding": {
        "x": {"field": "s", "type": "quantitative", "scale": {"domain": [5, 3000], "nice": false, "zero": false},
              "axis": {"orient": "bottom", "title": "Sample #", "titlePadding": 2, "format": "d", "values": [500, 1000, 1500, 2000, 2500, 3000], "grid": true}},
        "y": {"field": "m", "type": "quantitative", "scale": {"domain": [-100, 0], "nice": false, "zero": false},
              "axis": {"orient": "left", "title": "Normalized Magnitude (dB)", "titlePadding": 10, "format": "d", "values": [-100, -80, -60, -40, -20, 0], "grid": true}}
      }
    },
    {
      "data": {"name": "hg"},
      "mark": {"type": "line", "opacity": 0},
      "encoding": {
        "x": {"field": "s", "type": "quantitative", "scale": {"domain": [5, 3000], "nice": false, "zero": false},
              "axis": {"orient": "top", "title": null, "labels": false, "grid": false, "values": [500, 1000, 1500, 2000, 2500, 3000]}},
        "y": {"field": "m", "type": "quantitative", "scale": {"domain": [-100, 0], "nice": false, "zero": false},
              "axis": {"orient": "right", "title": null, "labels": false, "grid": false, "values": [-100, -80, -60, -40, -20, 0]}}
      }
    },
    {
      "data": {"name": "snrLines"},
      "mark": {"type": "rule", "color": "#000", "strokeWidth": 2, "clip": false},
      "encoding": {
        "x": {"field": "x", "type": "quantitative", "scale": {"domain": [5, 3000], "nice": false, "zero": false}, "axis": null},
        "y": {"field": "y", "type": "quantitative", "scale": {"domain": [-100, 0], "nice": false, "zero": false}, "axis": null},
        "x2": {"field": "x2"},
        "y2": {"field": "y2"}
      }
    },
    {
      "data": {"name": "snrText"},
      "mark": {"type": "text", "font": "Liberation Serif", "fontSize": 26, "align": "left", "baseline": "alphabetic", "color": "#000", "clip": false},
      "encoding": {
        "x": {"field": "x", "type": "quantitative", "scale": {"domain": [5, 3000], "nice": false, "zero": false}, "axis": null},
        "y": {"field": "y", "type": "quantitative", "scale": {"domain": [-100, 0], "nice": false, "zero": false}, "axis": null},
        "text": {"field": "t"}
      }
    }
  ],
  "resolve": {"axis": {"x": "independent", "y": "independent"}}
}
]
}
